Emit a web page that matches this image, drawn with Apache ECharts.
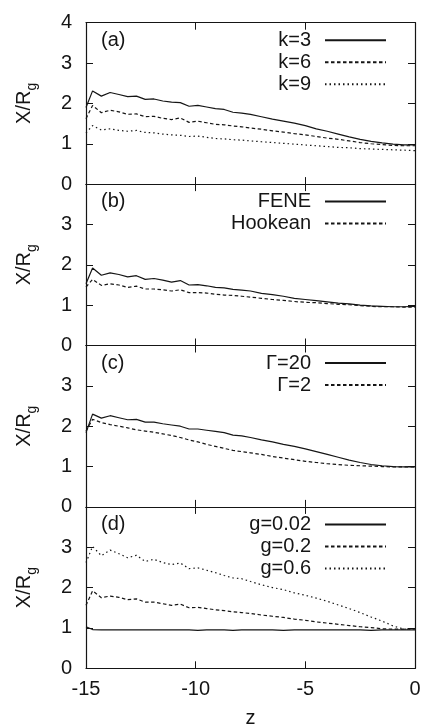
<!DOCTYPE html>
<html>
<head>
<meta charset="utf-8">
<script src="https://cdn.jsdelivr.net/npm/echarts@6/dist/echarts.min.js"></script>
<style>
  html, body { margin: 0; padding: 0; background: #fff; }
  #chart { width: 423px; height: 724px; }
</style>
</head>
<body>
<div id="chart"></div>
<script>
// z positions shared by all curves
var z = [-15, -14.7, -14.3, -13.9, -13.5, -13.1, -12.7, -12.3, -11.9, -11.5, -11.1, -10.7, -10.3, -9.9, -9.5, -9.1, -8.7, -8.3, -7.9, -7.5, -7, -6.5, -6, -5.5, -5, -4.5, -4, -3.5, -3, -2.5, -2, -1.5, -1, -0.5, 0]

// (a)
var k3 = [1.9, 2.31, 2.18, 2.27, 2.22, 2.17, 2.18, 2.10, 2.11, 2.06, 2.03, 2.02, 1.93, 1.95, 1.91, 1.87, 1.85, 1.78, 1.76, 1.73, 1.67, 1.61, 1.56, 1.51, 1.45, 1.37, 1.31, 1.24, 1.17, 1.11, 1.06, 1.02, 0.99, 0.97, 0.97]
var k6 = [1.62, 1.95, 1.77, 1.83, 1.79, 1.73, 1.74, 1.67, 1.68, 1.63, 1.60, 1.64, 1.53, 1.56, 1.52, 1.48, 1.47, 1.44, 1.42, 1.39, 1.36, 1.32, 1.29, 1.25, 1.22, 1.18, 1.14, 1.11, 1.07, 1.03, 1.0, 0.98, 0.96, 0.95, 0.95]
var k9 = [1.27, 1.45, 1.34, 1.37, 1.33, 1.31, 1.33, 1.28, 1.27, 1.24, 1.22, 1.21, 1.18, 1.19, 1.16, 1.13, 1.12, 1.10, 1.09, 1.07, 1.05, 1.03, 1.01, 0.99, 0.97, 0.95, 0.93, 0.91, 0.90, 0.88, 0.87, 0.86, 0.85, 0.84, 0.83]
// (b)
var fene = [1.53, 1.92, 1.74, 1.80, 1.76, 1.70, 1.73, 1.64, 1.66, 1.62, 1.57, 1.61, 1.50, 1.51, 1.48, 1.44, 1.43, 1.39, 1.37, 1.35, 1.29, 1.26, 1.22, 1.17, 1.14, 1.11, 1.08, 1.05, 1.03, 1.0, 0.98, 0.97, 0.96, 0.96, 0.97]
var hookean = [1.45, 1.64, 1.49, 1.53, 1.50, 1.44, 1.47, 1.40, 1.40, 1.38, 1.35, 1.38, 1.31, 1.31, 1.30, 1.27, 1.25, 1.24, 1.22, 1.20, 1.17, 1.14, 1.12, 1.09, 1.07, 1.06, 1.04, 1.02, 1.01, 0.99, 0.97, 0.96, 0.96, 0.95, 0.95]
// (c)
var gam20 = [1.84, 2.30, 2.20, 2.26, 2.21, 2.16, 2.17, 2.10, 2.10, 2.06, 2.03, 2.00, 1.93, 1.93, 1.90, 1.87, 1.84, 1.78, 1.76, 1.72, 1.66, 1.61, 1.55, 1.50, 1.44, 1.37, 1.30, 1.23, 1.16, 1.10, 1.05, 1.02, 1.0, 0.99, 0.99]
var gam2 = [1.88, 2.17, 2.09, 2.04, 2.00, 1.96, 1.91, 1.88, 1.85, 1.81, 1.77, 1.72, 1.66, 1.61, 1.55, 1.50, 1.45, 1.40, 1.37, 1.34, 1.30, 1.25, 1.21, 1.17, 1.13, 1.10, 1.07, 1.05, 1.03, 1.02, 1.01, 1.0, 0.99, 0.99, 0.99]
// (d)
var g002 = [1.03, 0.96, 0.95, 0.95, 0.95, 0.95, 0.95, 0.95, 0.95, 0.95, 0.95, 0.95, 0.95, 0.94, 0.95, 0.95, 0.95, 0.94, 0.95, 0.95, 0.95, 0.95, 0.94, 0.95, 0.95, 0.95, 0.95, 0.95, 0.95, 0.95, 0.94, 0.95, 0.95, 0.95, 0.95]
var g02 = [1.56, 1.92, 1.75, 1.79, 1.76, 1.70, 1.72, 1.64, 1.64, 1.60, 1.56, 1.59, 1.50, 1.51, 1.48, 1.45, 1.43, 1.40, 1.38, 1.36, 1.32, 1.29, 1.26, 1.22, 1.19, 1.15, 1.12, 1.09, 1.06, 1.03, 1.01, 0.98, 0.97, 0.97, 0.98]
var g06 = [2.62, 3.02, 2.79, 2.93, 2.84, 2.74, 2.80, 2.65, 2.70, 2.62, 2.57, 2.61, 2.47, 2.49, 2.43, 2.37, 2.30, 2.24, 2.22, 2.15, 2.07, 2.00, 1.95, 1.87, 1.81, 1.74, 1.66, 1.57, 1.48, 1.38, 1.27, 1.17, 1.05, 0.97, 0.98]

var panelLabels = ['(a)', '(b)', '(c)', '(d)']
var xTicks = [-15, -10, -5, 0]
var yTicks = [0, 1, 2, 3, 4]

var panels = [
  { names: ['k=3', 'k=6', 'k=9'], data: [k3, k6, k9] },
  { names: ['FENE', 'Hookean'], data: [fene, hookean] },
  { names: ['Γ=20', 'Γ=2'], data: [gam20, gam2] },
  { names: ['g=0.02', 'g=0.2', 'g=0.6'], data: [g002, g02, g06] }
]

var dashes = ['solid', [3.5, 2.5], [1.5, 3]]
var font = 'Liberation Sans, Arial, Helvetica, sans-serif'
var fs = 20
var ink = '#151515'
var top0 = 22.7
var ph = 161.4

function zip(ys) {
  var out = []
  for (var i = 0; i < z.length; i++) {
    out.push([z[i], ys[i]])
  }
  return out
}

function tick() {
  return { show: true, inside: true, length: 7, lineStyle: { color: ink, width: 1 } }
}
function line() {
  return { show: true, onZero: false, lineStyle: { color: ink, width: 1.2 } }
}

var grids = []
var xAxes = []
var yAxes = []
var series = []
var legends = []
var graphics = []

panels.forEach(function (p, i) {
  var last = i === panels.length - 1
  var top = top0 + i * ph
  // outerBoundsMode none: keep the box where it is, the labels may sit outside
  grids.push({ left: 86, right: 8, top: top, height: ph, outerBoundsMode: 'none', containLabel: false })

  // bottom x axis
  xAxes.push({
    gridIndex: i,
    type: 'value',
    position: 'bottom',
    min: xTicks[0],
    max: xTicks[xTicks.length - 1],
    interval: 5,
    axisLine: line(),
    axisTick: tick(),
    splitLine: { show: false },
    axisLabel: { show: last, margin: 11, fontSize: fs, color: ink, fontFamily: font },
    name: last ? 'z' : '',
    nameLocation: 'middle',
    nameGap: 40,
    nameTextStyle: { fontSize: fs, color: ink, fontFamily: font }
  })
  // top x axis, ticks only
  xAxes.push({
    gridIndex: i,
    type: 'value',
    position: 'top',
    min: xTicks[0],
    max: xTicks[xTicks.length - 1],
    interval: 5,
    axisLine: line(),
    axisTick: tick(),
    splitLine: { show: false },
    axisLabel: { show: false }
  })
  // left y axis
  yAxes.push({
    gridIndex: i,
    type: 'value',
    position: 'left',
    min: yTicks[0],
    max: yTicks[yTicks.length - 1],
    interval: 1,
    axisLine: line(),
    axisTick: tick(),
    splitLine: { show: false },
    axisLabel: { margin: 14, fontSize: fs, color: ink, fontFamily: font, showMaxLabel: i === 0, showMinLabel: true },
    name: 'X/R{s|g}',
    nameLocation: 'middle',
    nameGap: 47,
    nameRotate: 90,
    nameTextStyle: {
      fontSize: fs,
      color: ink,
      fontFamily: font,
      rich: { s: { fontSize: 14, fontFamily: font, color: ink, verticalAlign: 'bottom', lineHeight: 30 } }
    }
  })
  // right y axis, ticks only
  yAxes.push({
    gridIndex: i,
    type: 'value',
    position: 'right',
    min: yTicks[0],
    max: yTicks[yTicks.length - 1],
    interval: 1,
    axisLine: line(),
    axisTick: tick(),
    splitLine: { show: false },
    axisLabel: { show: false }
  })

  p.names.forEach(function (n, j) {
    series.push({
      name: n,
      type: 'line',
      xAxisIndex: i * 2,
      yAxisIndex: i * 2,
      symbol: 'none',
      showSymbol: false,
      data: zip(p.data[j]),
      lineStyle: { color: ink, width: 1.2, type: dashes[j] },
      itemStyle: { color: ink }
    })
  })

  legends.push({
    data: p.names,
    orient: 'vertical',
    align: 'right',
    right: 36,
    top: top + 7.5,
    padding: 0,
    itemWidth: 61,
    itemHeight: 14,
    itemGap: 2,
    selectedMode: false,
    // hide the circle marker, keep the line sample
    itemStyle: { color: 'rgba(0,0,0,0)', borderColor: 'rgba(0,0,0,0)', borderWidth: 0 },
    textStyle: { fontSize: fs, color: ink, fontFamily: font, padding: [0, 9, 0, 0] }
  })

  graphics.push({
    type: 'text',
    left: 101,
    top: top + 7.5,
    style: { text: panelLabels[i], fill: ink, font: fs + 'px ' + font }
  })
})

var chart = echarts.init(document.getElementById('chart'))
chart.setOption({
  animation: false,
  backgroundColor: '#fff',
  grid: grids,
  xAxis: xAxes,
  yAxis: yAxes,
  legend: legends,
  graphic: graphics,
  series: series
})
</script>
</body>
</html>
